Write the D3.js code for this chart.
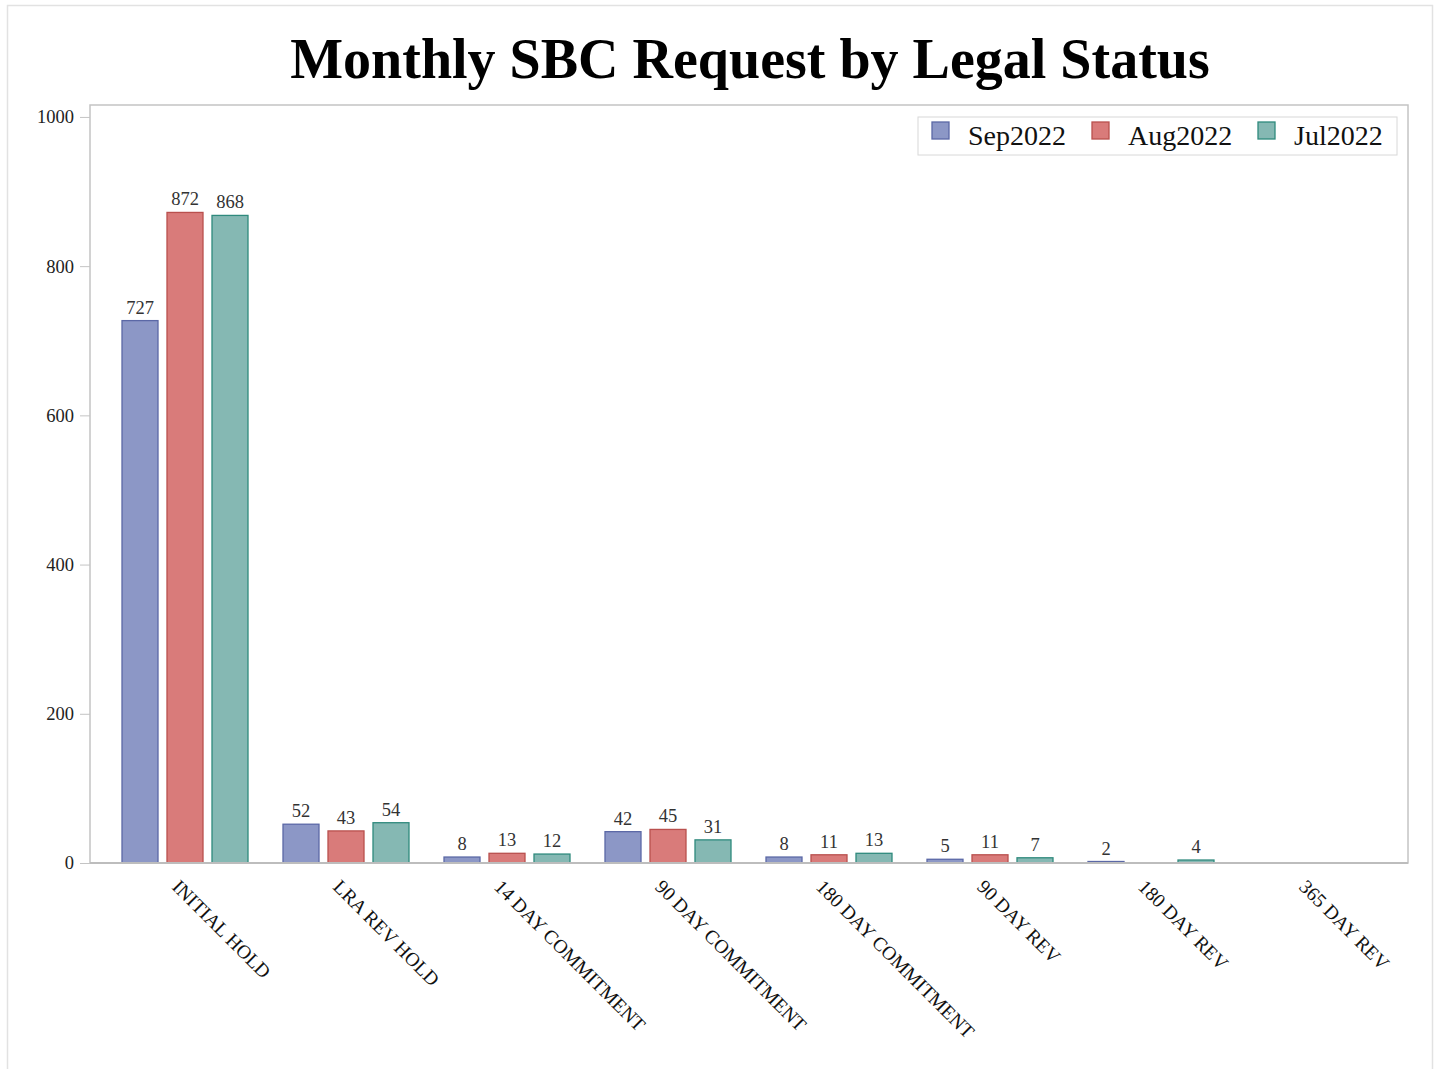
<!DOCTYPE html>
<html>
<head>
<meta charset="utf-8">
<script src="https://cdn.jsdelivr.net/npm/d3@7"></script>
<style>
  body { margin: 0; background: #fff; }
  text { font-family: "Liberation Serif", "Times New Roman", serif; }
</style>
</head>
<body>
<svg width="1440" height="1069"></svg>
<script>
"use strict";

// 데이터
const categories = ["INITIAL HOLD", "LRA REV HOLD", "14 DAY COMMITMENT", "90 DAY COMMITMENT",
  "180 DAY COMMITMENT", "90 DAY REV", "180 DAY REV", "365 DAY REV"];
const seriesNames = ["Sep2022", "Aug2022", "Jul2022"];
const sep2022 = [727, 52, 8, 42, 8, 5, 2, 0];
const aug2022 = [872, 43, 13, 45, 11, 11, 0, 0];
const jul2022 = [868, 54, 12, 31, 13, 7, 4, 0];
const yTicks = [0, 200, 400, 600, 800, 1000];

const seriesValues = [sep2022, aug2022, jul2022];
const fills = ["#8c97c6", "#d97b7a", "#85b8b3"];
const strokes = ["#5b68a6", "#b9504e", "#2f8a7d"];

const svg = d3.select("svg");

// 바깥 테두리
svg.append("path")
  .attr("d", "M7.5,1069 V5.5 H1432.5 V1069")
  .style("fill", "none")
  .style("stroke", "#e2e2e2")
  .style("stroke-width", "1.5px");

// 제목
svg.append("text")
  .attr("x", 750)
  .attr("y", 78)
  .attr("text-anchor", "middle")
  .style("font-size", "56px")
  .style("font-weight", "bold")
  .text("Monthly SBC Request by Legal Status");

const plotL = 90, plotR = 1408, plotT = 105, plotB = 863;

const y = d3.scaleLinear().domain([0, 1016]).range([plotB, plotT]);
const x0 = d3.scaleBand().domain(categories).range([104.5, 1392.5]).paddingInner(0).paddingOuter(0);
const x1 = d3.scaleBand().domain(seriesNames).range([17.5, 143.5]).paddingInner(0.2).paddingOuter(0);

// 플롯 영역 틀
svg.append("rect")
  .attr("x", plotL).attr("y", plotT)
  .attr("width", plotR - plotL).attr("height", plotB - plotT)
  .style("fill", "none")
  .style("stroke", "#c4c4c4")
  .style("stroke-width", "1.5px");

// y축
const yAxis = svg.append("g")
  .attr("transform", `translate(${plotL},0)`)
  .call(d3.axisLeft(y).tickValues(yTicks).tickFormat(d3.format("d")).tickSize(10).tickPadding(6));
yAxis.select(".domain").remove();
yAxis.selectAll("line").style("stroke", "#c4c4c4");
yAxis.selectAll("text").style("font-size", "18.5px").style("fill", "#222")
  .style("font-family", "Liberation Serif");

// 막대
const groups = svg.selectAll("g.grp")
  .data(categories)
  .join("g")
  .attr("class", "grp")
  .attr("transform", d => `translate(${x0(d)},0)`);

groups.each(function (cat, ci) {
  const g = d3.select(this);
  seriesNames.forEach((s, si) => {
    const v = seriesValues[si][ci];
    if (v <= 0) return;
    g.append("rect")
      .attr("x", x1(s))
      .attr("y", y(v))
      .attr("width", x1.bandwidth())
      .attr("height", plotB - y(v))
      .style("fill", fills[si])
      .style("stroke", strokes[si])
      .style("stroke-width", "1.3px");
    g.append("text")
      .attr("x", x1(s) + x1.bandwidth() / 2)
      .attr("y", y(v) - 7)
      .attr("text-anchor", "middle")
      .style("font-size", "18.5px")
      .style("fill", "#333")
      .text(v);
  });
});

// 0 기준선 다시 그리기
svg.append("line")
  .attr("x1", plotL).attr("x2", plotR)
  .attr("y1", plotB).attr("y2", plotB)
  .style("stroke", "#bdbdbd")
  .style("stroke-width", "2px");

// x축 라벨 (45도 회전)
svg.selectAll("text.xlab")
  .data(categories)
  .join("text")
  .attr("class", "xlab")
  .attr("transform", d => `translate(${x0(d) + x0.bandwidth() / 2 - 14},888) rotate(45)`)
  .style("font-size", "19.5px")
  .style("fill", "#111")
  .text(d => d);

// 범례
const lg = svg.append("g").attr("transform", "translate(918,117)");
lg.append("rect")
  .attr("width", 479).attr("height", 38)
  .style("fill", "#fff")
  .style("stroke", "#d8d8d8")
  .style("stroke-width", "1px");
const legendX = [14, 174, 340];
seriesNames.forEach((s, i) => {
  lg.append("rect")
    .attr("x", legendX[i]).attr("y", 5)
    .attr("width", 17).attr("height", 17)
    .style("fill", fills[i])
    .style("stroke", strokes[i])
    .style("stroke-width", "1.3px");
  lg.append("text")
    .attr("x", legendX[i] + 36)
    .attr("y", 28)
    .style("font-size", "28px")
    .style("fill", "#111")
    .text(s);
});
</script>
</body>
</html>
